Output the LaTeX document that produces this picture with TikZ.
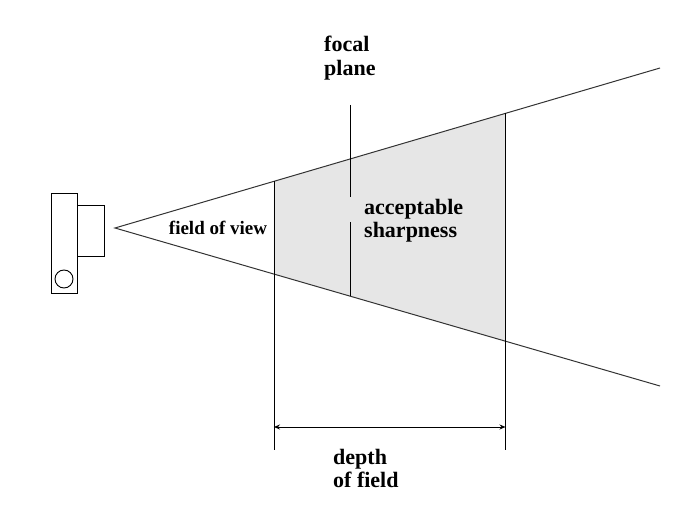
\documentclass[tikz,border=0pt]{standalone}
\usepackage{fontspec}
\setmainfont{Liberation Serif}
\usetikzlibrary{arrows.meta,calc}
\definecolor{dofgray}{HTML}{E6E6E6}
\definecolor{linegray}{HTML}{333333}
\tikzset{
  thin line/.style={draw=black,line width=0.9pt},
  ray/.style={draw=linegray,line width=1pt},
  biglabel/.style={font=\bfseries\fontsize{22}{23.5}\selectfont,align=left,inner sep=0pt},
  smalllabel/.style={font=\bfseries\fontsize{19}{21}\selectfont,inner sep=0pt},
  dimarrow/.style={draw=black,line width=0.9pt,{Stealth[length=6pt,width=5pt]}-{Stealth[length=6pt,width=5pt]}}
}
\begin{document}
\begin{tikzpicture}[x=1pt,y=-1pt]
\useasboundingbox (0,0) rectangle (690,518);
% rays
\coordinate (A) at (115,228);
\coordinate (UE) at (660,68);
\coordinate (LE) at (660,386);
\coordinate (U1) at ($(A)!0.2917!(UE)$);
\coordinate (L1) at ($(A)!0.2917!(LE)$);
\coordinate (U2) at ($(A)!0.7165!(UE)$);
\coordinate (L2) at ($(A)!0.7165!(LE)$);
\coordinate (Uf) at ($(A)!0.4312!(UE)$);
\coordinate (Lf) at ($(A)!0.4312!(LE)$);
% shaded region
\fill[dofgray] (U1) -- (U2) -- (L2) -- (L1) -- cycle;
\draw[ray] (UE) -- (A) -- (LE);
% depth of field verticals
\coordinate (B1) at (U1 |- 0,450);
\coordinate (B2) at (U2 |- 0,450);
\draw[thin line] (U1) -- (B1);
\draw[thin line] (U2) -- (B2);
% focal plane line
\coordinate (F0) at (Uf |- 0,105);
\coordinate (Fa) at (Uf |- 0,197);
\coordinate (Fb) at (Uf |- 0,222);
\draw[thin line] (F0) -- (Fa);
\draw[thin line] (Fb) -- (Lf);
% dimension arrow
\coordinate (D1) at (U1 |- 0,427);
\coordinate (D2) at (U2 |- 0,427);
\draw[dimarrow] (D1) -- (D2);
% camera
\node[draw=black,line width=0.9pt,minimum width=26pt,minimum height=100pt,inner sep=0pt] (body) at (64,243) {};
\node[draw=black,line width=0.9pt,minimum width=27pt,minimum height=51pt,inner sep=0pt,anchor=west] (lens) at (77,230.5) {};
\node[draw=black,line width=0.9pt,circle,minimum size=18pt,inner sep=0pt] (knob) at (64,279) {};
% labels
\node[biglabel,anchor=north west] (focal) at (324,36) {focal\\plane};
\node[biglabel,anchor=north west] (sharp) at (364,199) {acceptable\\sharpness};
\node[smalllabel] (fov) at (218,228) {field of view};
\node[biglabel,anchor=north west] (dof) at (333,449) {depth\\of field};
\end{tikzpicture}
\end{document}
